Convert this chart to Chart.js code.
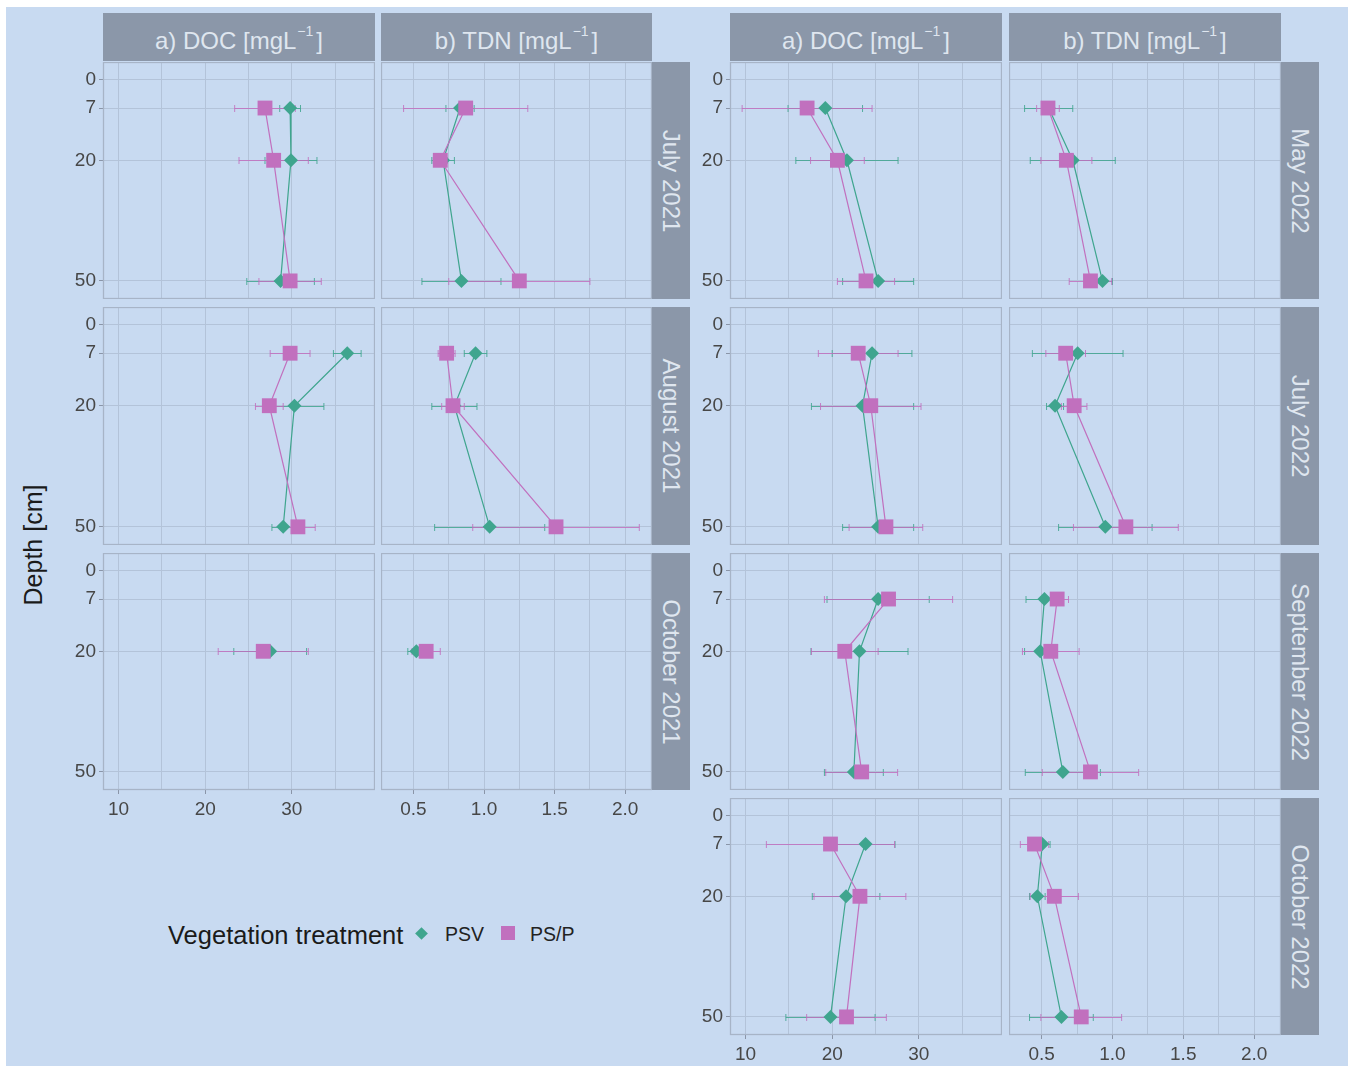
<!DOCTYPE html>
<html>
<head>
<meta charset="utf-8">
<title>DOC and TDN depth profiles</title>
<script src="https://cdn.jsdelivr.net/npm/chart.js@4.4.0/dist/chart.umd.min.js"></script>
<style>
  html, body { margin: 0; padding: 0; background: #ffffff; }
  body { width: 1348px; height: 1066px; position: relative; overflow: hidden;
         font-family: "Liberation Sans", Arial, sans-serif; }
  #bg { position: absolute; left: 6px; top: 7px; right: 0; bottom: 0; background: #c8daf1; }
  canvas { position: absolute; }
  .strip { position: absolute; background: #8b97a9; color: #dfe6ef; font-size: 24px;
           display: flex; align-items: center; justify-content: center; white-space: nowrap; }
  .hstrip { padding-top: 7px; box-sizing: border-box; }
  .strip .sup { font-size: 14px; position: relative; top: -10px; margin-left: 1px; margin-right: 3px; }
  .vstrip span { transform: rotate(90deg); display: inline-block; }
  .label { position: absolute; white-space: nowrap; }
</style>
</head>
<body>
<div id="bg"></div>
<script>
// ---- data -------------------------------------------------------------
const DEPTHS = [7, 20, 50];
const MONTHS = ['July 2021', 'August 2021', 'October 2021',
                'May 2022', 'July 2022', 'September 2022', 'October 2022'];
const VARIABLES = ['a) DOC [mgL', 'b) TDN [mgL'];
const SERIES = ['PSV', 'PS/P'];
const DEPTH_TICKS = [0, 7, 20, 50];
const DOC_TICKS = [10, 20, 30];
const DOC_GRID = [10, 15, 20, 25, 30, 35];
const TDN_TICKS = [0.5, 1.0, 1.5, 2.0];
const TDN_GRID = [0.5, 0.75, 1.0, 1.25, 1.5, 1.75, 2.0];

// means per month (rows) and depth 7 / 20 / 50 cm (columns)
const DOC_PSV = [
  [29.8, 29.9, 28.7], [36.4, 30.3, 29.0], [null, 27.5, null],
  [19.2, 21.7, 25.3], [24.6, 23.5, 25.3], [25.3, 23.15, 22.5], [23.85, 21.6, 19.8]
];
const DOC_PSV_SD = [
  [1.2, 3.0, 3.9], [1.6, 3.4, 1.3], [null, 4.2, null],
  [4.3, 5.9, 4.1], [4.6, 5.9, 4.1], [5.9, 5.6, 3.4], [3.4, 3.9, 5.15]
];
const DOC_PSP = [
  [26.9, 27.9, 29.8], [29.8, 27.4, 30.7], [null, 26.7, null],
  [17.1, 20.6, 23.9], [23.0, 24.45, 26.2], [26.5, 21.45, 23.4], [19.8, 23.2, 21.65]
];
const DOC_PSP_SD = [
  [3.5, 4.0, 3.6], [2.3, 1.6, 2.0], [null, 5.2, null],
  [7.5, 3.1, 3.3], [4.6, 5.8, 4.25], [7.4, 3.85, 4.15], [7.4, 5.3, 4.6]
];
const TDN_PSV = [
  [0.83, 0.71, 0.84], [0.94, 0.79, 1.04], [null, 0.52, null],
  [0.55, 0.72, 0.93], [0.755, 0.595, 0.95], [0.52, 0.49, 0.65], [0.505, 0.47, 0.64]
];
const TDN_PSV_SD = [
  [0.1, 0.08, 0.28], [0.08, 0.16, 0.39], [null, 0.06, null],
  [0.17, 0.3, 0.07], [0.32, 0.06, 0.33], [0.13, 0.11, 0.265], [0.055, 0.055, 0.225]
];
const TDN_PSP = [
  [0.87, 0.69, 1.25], [0.735, 0.78, 1.51], [null, 0.59, null],
  [0.545, 0.675, 0.845], [0.67, 0.73, 1.095], [0.61, 0.565, 0.845], [0.45, 0.59, 0.78]
];
const TDN_PSP_SD = [
  [0.44, 0.05, 0.5], [0.06, 0.08, 0.59], [null, 0.1, null],
  [0.08, 0.18, 0.15], [0.14, 0.09, 0.37], [0.08, 0.2, 0.34], [0.1, 0.17, 0.285]
];

// ---- styling & layout ---------------------------------------------------
const TEAL = '#3fa58e';
const PINK = '#c170be';
const GRID = '#b3c3d9';
const FRAME = '#a7b4c7';
const TICK_TEXT = '#474747';
const DOC_RANGE = [8.2, 39.6];
const TDN_RANGE = [0.27, 2.19];
const DEPTH_RANGE = [-4.45, 54.5];
const Y_AXIS_W = 46;
const X_AXIS_H = 34;

const blocks = [
  { months: [0, 1, 2], cols: [{ x: 103, w: 272 }, { x: 381, w: 271 }], strip: { x: 652, w: 38 } },
  { months: [3, 4, 5, 6], cols: [{ x: 730, w: 272 }, { x: 1009, w: 272 }], strip: { x: 1281, w: 38 } }
];
const ROWS = [{ y: 62, h: 237 }, { y: 307, h: 238 }, { y: 553, h: 237 }, { y: 798, h: 237 }];

// panel frame drawn on top of the grid
const framePlugin = {
  id: 'panelFrame',
  beforeDatasetsDraw(chart) {
    const a = chart.chartArea, ctx = chart.ctx;
    ctx.save();
    ctx.strokeStyle = FRAME;
    ctx.lineWidth = 1.3;
    ctx.strokeRect(a.left + 0.5, a.top + 0.5, a.right - a.left - 1, a.bottom - a.top - 1);
    ctx.restore();
  }
};

// horizontal error bars (mean ± sd) with end caps
const errorBarPlugin = {
  id: 'errorBars',
  beforeDatasetsDraw(chart) {
    const ctx = chart.ctx, xs = chart.scales.x, ys = chart.scales.y;
    ctx.save();
    ctx.lineWidth = 1;
    chart.data.datasets.forEach(ds => {
      ctx.strokeStyle = ds.errorColor;
      ds.data.forEach((p, i) => {
        const e = ds.errors[i];
        const x0 = xs.getPixelForValue(p.x - e);
        const x1 = xs.getPixelForValue(p.x + e);
        const py = Math.round(ys.getPixelForValue(p.y)) + 0.5;
        ctx.beginPath();
        ctx.moveTo(x0, py); ctx.lineTo(x1, py);
        ctx.moveTo(x0, py - 3.5); ctx.lineTo(x0, py + 3.5);
        ctx.moveTo(x1, py - 3.5); ctx.lineTo(x1, py + 3.5);
        ctx.stroke();
      });
    });
    ctx.restore();
  }
};

function seriesPoints(means, sds) {
  const data = [], errors = [];
  means.forEach((v, i) => {
    if (v !== null) { data.push({ x: v, y: DEPTHS[i] }); errors.push(sds[i]); }
  });
  return { data, errors };
}

function makePanel(m, varIdx, col, row, showY, showX) {
  const isDoc = varIdx === 0;
  const psv = seriesPoints((isDoc ? DOC_PSV : TDN_PSV)[m], (isDoc ? DOC_PSV_SD : TDN_PSV_SD)[m]);
  const psp = seriesPoints((isDoc ? DOC_PSP : TDN_PSP)[m], (isDoc ? DOC_PSP_SD : TDN_PSP_SD)[m]);
  const grid = isDoc ? DOC_GRID : TDN_GRID;
  const labelled = isDoc ? DOC_TICKS : TDN_TICKS;
  const range = isDoc ? DOC_RANGE : TDN_RANGE;

  const left = col.x - (showY ? Y_AXIS_W : 0);
  const W = col.w + (showY ? Y_AXIS_W : 0);
  const H = row.h + (showX ? X_AXIS_H : 0);
  const cv = document.createElement('canvas');
  cv.width = W; cv.height = H;
  cv.style.left = left + 'px'; cv.style.top = row.y + 'px';
  cv.style.width = W + 'px'; cv.style.height = H + 'px';
  document.body.appendChild(cv);

  new Chart(cv, {
    type: 'scatter',
    data: {
      datasets: [
        { label: SERIES[0], data: psv.data, errors: psv.errors, errorColor: 'rgba(63,165,142,0.85)',
          showLine: true, borderColor: TEAL, backgroundColor: TEAL, borderWidth: 1.2,
          pointStyle: 'rectRot', pointRadius: 7, pointBorderWidth: 0, order: 1 },
        { label: SERIES[1], data: psp.data, errors: psp.errors, errorColor: 'rgba(193,112,190,0.85)',
          showLine: true, borderColor: PINK, backgroundColor: PINK, borderWidth: 1.2,
          pointStyle: 'rect', pointRadius: 10.5, pointBorderWidth: 0, order: 0 }
      ]
    },
    options: {
      responsive: false, animation: false, devicePixelRatio: 1,
      layout: { padding: 0, autoPadding: false },
      plugins: { legend: { display: false }, tooltip: { enabled: false } },
      scales: {
        x: {
          type: 'linear', position: 'bottom', bounds: 'data',
          min: range[0], max: range[1],
          afterBuildTicks: s => { s.ticks = grid.map(v => ({ value: v })); },
          afterFit: s => { s.height = showX ? X_AXIS_H : 0; s.paddingLeft = 0; s.paddingRight = 0; },
          border: { display: false },
          grid: { color: GRID, lineWidth: 1, drawTicks: showX, tickLength: 4,
                  tickColor: c => (c.tick && labelled.includes(c.tick.value)) ? '#8a95a8' : 'rgba(0,0,0,0)' },
          ticks: { display: showX, autoSkip: false, maxRotation: 0, padding: 4,
                   color: TICK_TEXT, font: { family: 'Liberation Sans', size: 19 },
                   callback: v => labelled.includes(v) ? (isDoc ? String(v) : v.toFixed(1)) : '' }
        },
        y: {
          type: 'linear', position: 'left', reverse: true, bounds: 'data',
          min: DEPTH_RANGE[0], max: DEPTH_RANGE[1],
          afterBuildTicks: s => { s.ticks = DEPTH_TICKS.map(v => ({ value: v })); },
          afterFit: s => { s.width = showY ? Y_AXIS_W : 0; s.paddingTop = 0; s.paddingBottom = 0; },
          border: { display: false },
          grid: { color: GRID, lineWidth: 1, drawTicks: showY, tickLength: 4, tickColor: '#8a95a8' },
          ticks: { display: showY, autoSkip: false, padding: 3,
                   color: TICK_TEXT, font: { family: 'Liberation Sans', size: 19 },
                   callback: v => String(v) }
        }
      }
    },
    plugins: [framePlugin, errorBarPlugin]
  });
}

function addDiv(cls, style, html) {
  const d = document.createElement('div');
  d.className = cls;
  Object.assign(d.style, style);
  d.innerHTML = html;
  document.body.appendChild(d);
  return d;
}

blocks.forEach(b => {
  // column headers
  b.cols.forEach((c, v) => {
    addDiv('strip hstrip', { left: c.x + 'px', top: '13px', width: c.w + 'px', height: '48px' },
      VARIABLES[v] + '<span class="sup">\u22121</span>]');
  });
  b.months.forEach((m, r) => {
    const row = ROWS[r];
    const last = r === b.months.length - 1;
    b.cols.forEach((c, v) => makePanel(m, v, c, row, v === 0, last));
    // month strip on the right
    addDiv('strip vstrip', { left: b.strip.x + 'px', top: row.y + 'px', width: b.strip.w + 'px',
      height: row.h + 'px' }, '<span>' + MONTHS[m] + '</span>');
  });
});

// y-axis title
addDiv('label', { left: '33px', top: '545px', transform: 'translate(-50%,-50%) rotate(-90deg)',
  fontSize: '25px', color: '#1a1a1a' }, 'Depth [cm]');

// legend
addDiv('label', { left: '168px', top: '920px', fontSize: '25.5px', color: '#1a1a1a', lineHeight: '30px' },
  'Vegetation treatment');
addDiv('label', { left: '417px', top: '929px', width: '9px', height: '9px', background: TEAL,
  transform: 'rotate(45deg)' }, '');
addDiv('label', { left: '445px', top: '922px', fontSize: '19.5px', color: '#222', lineHeight: '24px' }, SERIES[0]);
addDiv('label', { left: '501px', top: '926px', width: '14px', height: '14px', background: PINK }, '');
addDiv('label', { left: '530px', top: '922px', fontSize: '19.5px', color: '#222', lineHeight: '24px' }, SERIES[1]);
</script>
</body>
</html>
